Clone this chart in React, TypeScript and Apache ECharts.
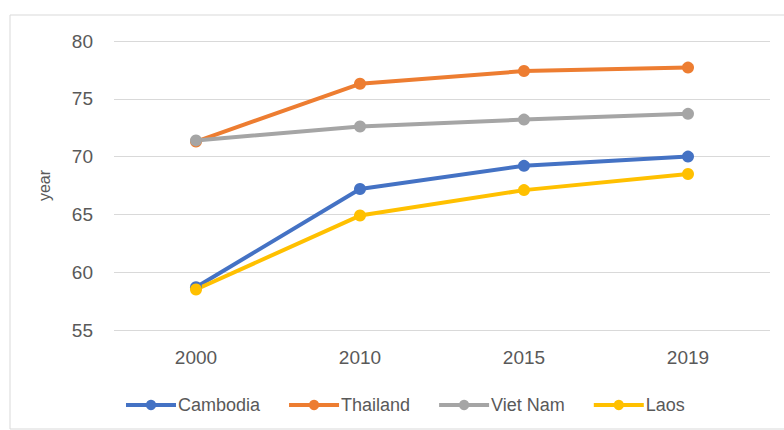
import React, { useEffect, useRef } from "react";
import * as echarts from "echarts";

const years = ["2000", "2010", "2015", "2019"];
const cambodia = [58.7, 67.2, 69.2, 70.0];
const thailand = [71.3, 76.3, 77.4, 77.7];
const vietNam = [71.4, 72.6, 73.2, 73.7];
const laos = [58.5, 64.9, 67.1, 68.5];

const FONT = "'Liberation Sans', Arial, sans-serif";
const TEXT = "#595959";

function lineSeries(name: string, data: number[], color: string) {
  return {
    name,
    type: "line",
    data,
    symbol: "circle",
    symbolSize: 12,
    lineStyle: { width: 4, color },
    itemStyle: { color },
    z: 3,
  };
}

export default function App() {
  const ref = useRef<HTMLDivElement>(null);

  useEffect(() => {
    if (!ref.current) return;
    const chart = echarts.init(ref.current, undefined, { renderer: "svg" });
    chart.setOption({
      animation: false,
      backgroundColor: "#ffffff",
      graphic: [
        {
          type: "rect",
          shape: { x: 10, y: 15, width: 800, height: 414 },
          style: { fill: "none", stroke: "#d9d9d9", lineWidth: 1 },
          silent: true,
        },
      ],
      grid: { left: 114, right: 14, top: 41, bottom: 100, containLabel: false },
      legend: {
        top: 391,
        left: 119,
        itemWidth: 50,
        itemHeight: 13,
        itemGap: 27,
        lineStyle: { width: 4 },
        textStyle: { color: TEXT, fontSize: 18, fontFamily: FONT, padding: [0, 0, 0, -3] },
        data: ["Cambodia", "Thailand", "Viet Nam", "Laos"],
      },
      xAxis: {
        type: "category",
        data: years,
        boundaryGap: true,
        axisLine: { show: false },
        axisTick: { show: false },
        axisLabel: { color: TEXT, fontSize: 19, fontFamily: FONT, margin: 18 },
      },
      yAxis: {
        type: "value",
        min: 55,
        max: 80,
        interval: 5,
        name: "year",
        nameLocation: "middle",
        nameGap: 62,
        nameRotate: 90,
        nameTextStyle: { color: TEXT, fontSize: 16, fontFamily: FONT },
        axisLine: { show: false },
        axisTick: { show: false },
        axisLabel: { color: TEXT, fontSize: 19, fontFamily: FONT, margin: 21 },
        splitLine: { lineStyle: { color: "#d9d9d9", width: 1 } },
      },
      series: [
        lineSeries("Cambodia", cambodia, "#4472C4"),
        lineSeries("Thailand", thailand, "#ED7D31"),
        lineSeries("Viet Nam", vietNam, "#A5A5A5"),
        lineSeries("Laos", laos, "#FFC000"),
      ],
    });
    return () => chart.dispose();
  }, []);

  return (
    <div
      ref={ref}
      style={{ position: "absolute", left: 0, top: 0, width: 784, height: 430 }}
    />
  );
}
